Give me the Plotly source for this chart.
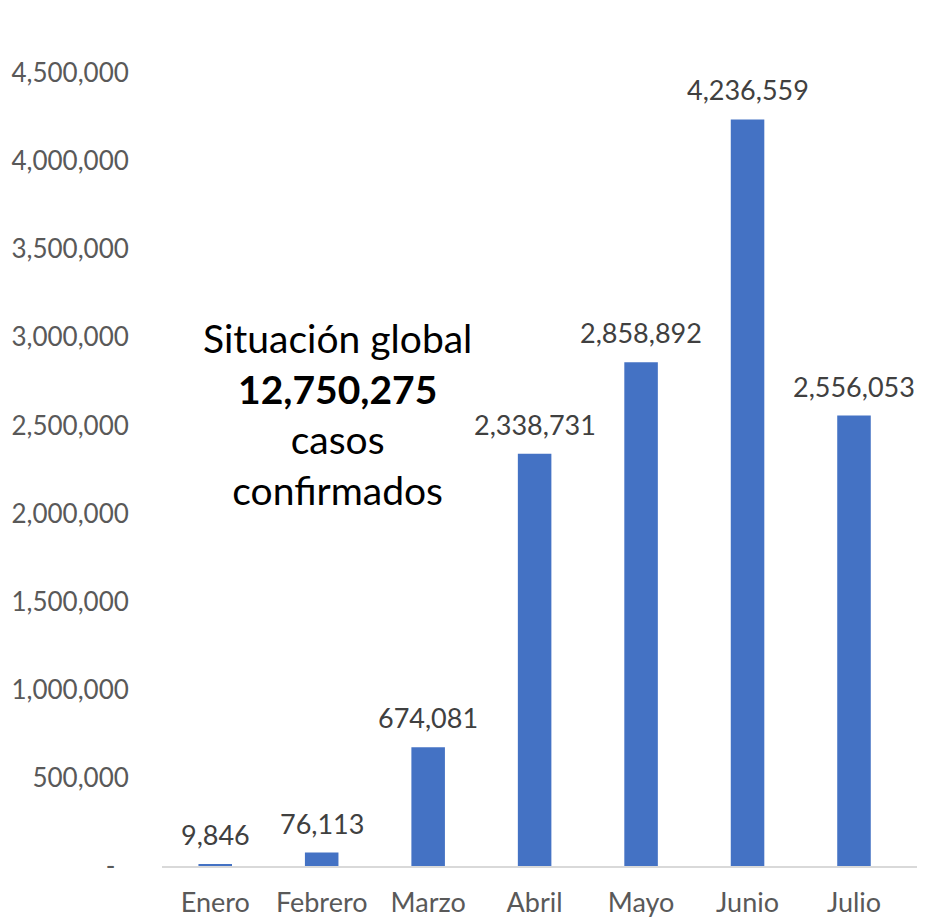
import plotly.graph_objects as go

months = ["Enero", "Febrero", "Marzo", "Abril", "Mayo", "Junio", "Julio"]
cases = [9846, 76113, 674081, 2338731, 2858892, 4236559, 2556053]
tick_vals = [0, 500000, 1000000, 1500000, 2000000, 2500000, 3000000, 3500000, 4000000, 4500000]
tick_text = ["-\u00a0\u00a0", "500,000", "1,000,000", "1,500,000", "2,000,000", "2,500,000",
             "3,000,000", "3,500,000", "4,000,000", "4,500,000"]
total = sum(cases)

FONT = "Lato"

fig = go.Figure(go.Bar(
    x=months, y=cases,
    marker=dict(color="#4472C4", line=dict(width=0)),
    cliponaxis=False,
    hoverinfo="skip",
))

label_annotations = [
    dict(x=m, y=v, xref="x", yref="y", text=f"{v:,}", showarrow=False,
         xanchor="center", yanchor="bottom", yshift=11,
         font=dict(family=FONT, size=27, color="#404040"))
    for m, v in zip(months, cases)
]

fig.update_layout(
    width=927, height=919,
    margin=dict(l=162, r=10, t=73, b=53, autoexpand=False),
    paper_bgcolor="white", plot_bgcolor="white",
    bargap=0.685,
    showlegend=False,
    xaxis=dict(
        automargin=False,
        showline=True, linecolor="#D9D9D9", linewidth=1.5,
        ticks="outside", ticklen=12, tickcolor="rgba(0,0,0,0)",
        tickfont=dict(family=FONT, size=27, color="#595959"),
        showgrid=False,
    ),
    yaxis=dict(
        automargin=False,
        range=[0, 4500000],
        tickvals=tick_vals, ticktext=tick_text,
        ticks="outside", ticklen=27, tickcolor="rgba(0,0,0,0)",
        tickfont=dict(family=FONT, size=26, color="#595959"),
        showgrid=False, zeroline=False, showline=False,
    ),
    annotations=label_annotations + [dict(
        xref="paper", yref="paper", x=0.233, y=0.57,
        xanchor="center", yanchor="middle",
        text=f"Situación global<br><b>{total:,}</b><br>casos<br>confirmados",
        showarrow=False, align="center",
        font=dict(family=FONT, size=39, color="#000000"),
    )],
)

fig.write_html("out.html", config={"displayModeBar": False},
               post_script="document.body.style.margin='0';document.body.style.overflow='hidden';")
